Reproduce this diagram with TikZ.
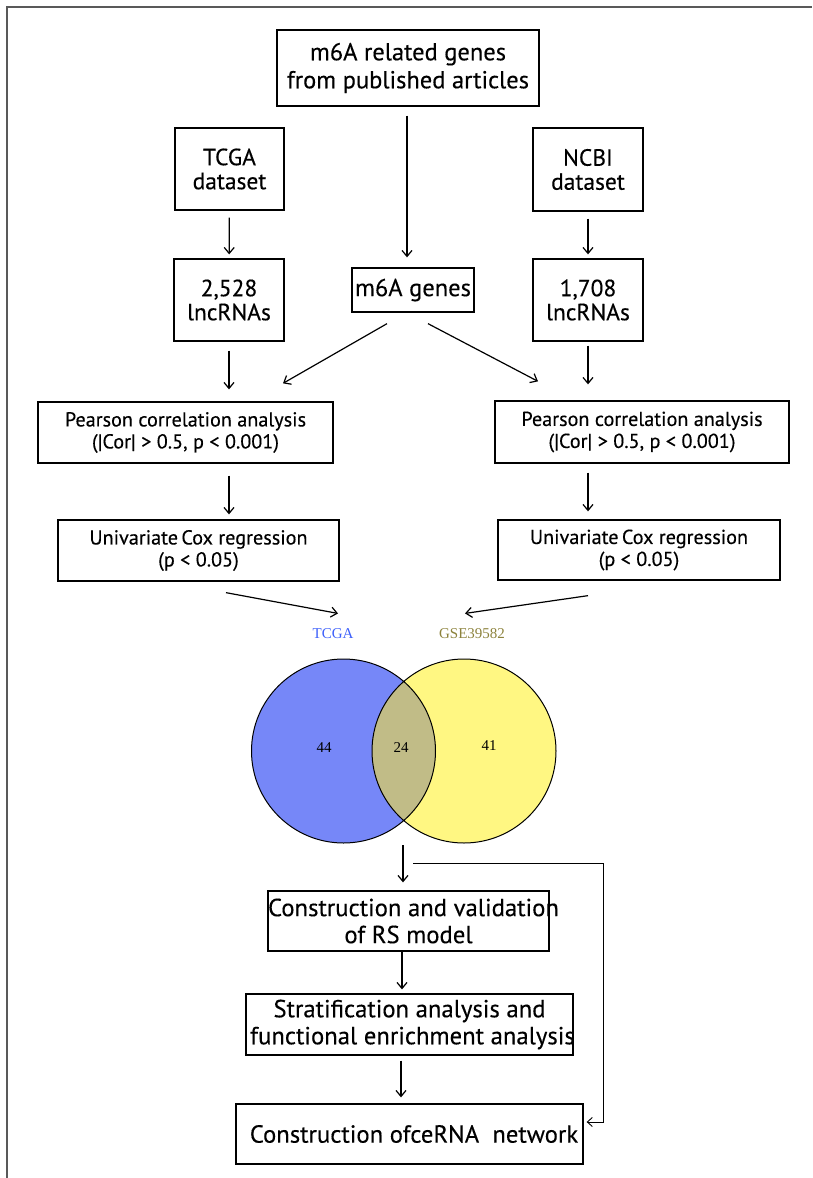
\documentclass[tikz,border=0pt]{standalone}
\usepackage{fontspec}
\setmainfont{PT Sans}
\newfontfamily\vennfont{Liberation Serif}
\usetikzlibrary{arrows.meta}
\newcommand{\ovl}[1]{\makebox[0pt]{#1}}

\begin{document}
\begin{tikzpicture}[x=1pt, y=-1pt,
    box/.style={draw, line width=1.3pt, inner sep=0pt, align=center},
    big/.style={font=\fontsize{24.5}{28}\selectfont\addfontfeature{FakeBold=0.3}},
    data/.style={font=\fontsize{23.5}{24}\selectfont\addfontfeature{FakeBold=0.3}},
    mid/.style={font=\fontsize{20.2}{22}\selectfont\addfontfeature{FakeBold=0.3}},
    low/.style={font=\fontsize{24.7}{27}\selectfont\addfontfeature{FakeBold=0.3}},
    venn/.style={font=\vennfont\fontsize{15}{17}\selectfont},
    arr/.style={-{Straight Barb[length=6pt,width=10pt]}, line width=1.2pt}]
    \useasboundingbox (0,0) rectangle (812,1178);
    \draw[black!65, line width=2pt] (6.5,1178) -- (6.5,7) -- (812,7);

    \node[box, big, minimum width=262pt, minimum height=76pt] (src) at (408,68) {m6A related genes\\ from published articles};
    \node[box, data, minimum width=109pt, minimum height=82pt] (tcga) at (229.5,169) {TCGA\\dataset};
    \node[box, data, minimum width=110pt, minimum height=83pt] (ncbi) at (588,169.5) {NCBI\\dataset};
    \node[box, data, minimum width=110pt, minimum height=82pt] (lncA) at (229,300) {2,528\\lncRNAs};
    \node[box, big, minimum width=122pt, minimum height=44pt] (genes) at (413,290) {m6A genes};
    \node[box, data, minimum width=110pt, minimum height=82pt] (lncB) at (588,300) {1,708\\lncRNAs};
    \node[box, mid, minimum width=295pt, minimum height=61pt] (corA) at (185.5,432.5) {Pearson correlation analysis\\(|Cor| > 0.5, p < 0.001)};
    \node[box, mid, minimum width=294pt, minimum height=62pt] (corB) at (642,432) {Pearson correlation analysis\\(|Cor| > 0.5, p < 0.001)};
    \node[box, mid, minimum width=281pt, minimum height=61pt] (coxA) at (198.5,550.5) {Univariate\,Cox regression\\(p < 0.05)};
    \node[box, mid, minimum width=282pt, minimum height=60pt] (coxB) at (639,550) {Univariate\,Cox regression\\(p < 0.05)};

    \node[venn, text={rgb,255:red,60;green,95;blue,250}] (labA) at (333,634) {TCGA};
    \node[venn, text={rgb,255:red,140;green,130;blue,60}] (labB) at (472,634) {GSE39582};
    \fill[fill={rgb,255:red,118;green,135;blue,248}] (343.5,751) circle[radius=92pt];
    \fill[fill={rgb,255:red,255;green,247;blue,130}] (464,751) circle[radius=92pt];
    \begin{scope}
        \clip (343.5,751) circle[radius=92pt];
        \fill[fill={rgb,255:red,193;green,188;blue,135}] (464,751) circle[radius=92pt];
    \end{scope}
    \draw[line width=1pt] (343.5,751) circle[radius=92pt] (464,751) circle[radius=92pt];
    \node[venn] (nA) at (324,748) {44};
    \node[venn] (nAB) at (401,748) {24};
    \node[venn] (nB) at (489,746) {41};
    \coordinate (vbot) at (403,845);
    \coordinate (fb) at (413,863);

    \node[box, low, minimum width=281pt, minimum height=60pt] (rs) at (408.5,921) {\ovl{\hspace{10pt}Construction and validation}\\\ovl{of RS model}};
    \node[box, low, minimum width=327pt, minimum height=61pt] (strat) at (409.5,1024.5) {\ovl{Stratification analysis and}\\\ovl{\hspace{6pt}functional enrichment analysis}};
    \node[box, low, minimum width=347pt, minimum height=60pt] (cerna) at (409.5,1134) {\ovl{\raisebox{-2pt}{\hspace{9pt}Construction ofceRNA\ \ network}}};

    \draw[arr, shorten <=7pt, shorten >=4pt] (tcga) -- (lncA);
    \draw[arr, shorten <=7pt, shorten >=4pt] (ncbi) -- (lncB);
    \draw[arr, shorten <=9pt, shorten >=10pt] (src.south -| 407,0) -- (genes.north -| 407,0);
    \draw[arr] ([xshift=-26pt,yshift=-11pt]genes.south) -- ([xshift=97.5pt,yshift=18pt]corA.north);
    \draw[arr] ([xshift=15pt,yshift=-11pt]genes.south) -- ([xshift=-104pt,yshift=19pt]corB.north);
    \draw[arr, shorten <=9pt, shorten >=12pt] (lncA.south) -- (lncA.south |- corA.north);
    \draw[arr, shorten <=4pt, shorten >=16pt] (lncB.south) -- (lncB.south |- corB.north);
    \draw[arr, shorten <=12pt, shorten >=5pt] (lncA.south |- corA.south) -- (lncA.south |- coxA.north);
    \draw[arr, shorten <=9pt, shorten >=8pt] (lncB.south |- corB.south) -- (lncB.south |- coxB.north);
    \draw[arr] ([xshift=27.5pt,yshift=-11pt]coxA.south) -- ([xshift=5pt,yshift=12pt]labA.north);
    \draw[arr] ([xshift=-51pt,yshift=-15pt]coxB.south) -- ([xshift=-7pt,yshift=12pt]labB.north);
    \draw[arr, shorten >=8pt] (vbot) -- (vbot |- rs.north);
    \draw[arr, shorten >=4pt] (rs.south -| 402,0) -- (strat.north -| 402,0);
    \draw[arr, shorten <=5pt, shorten >=6pt] (strat.south -| 401,0) -- (cerna.north -| 401,0);
    \draw[-{Straight Barb[length=5pt,width=9pt]}, line width=0.9pt] (fb) -- ++(190,0) |- ([xshift=3pt,yshift=12pt]cerna.east);
\end{tikzpicture}
\end{document}
